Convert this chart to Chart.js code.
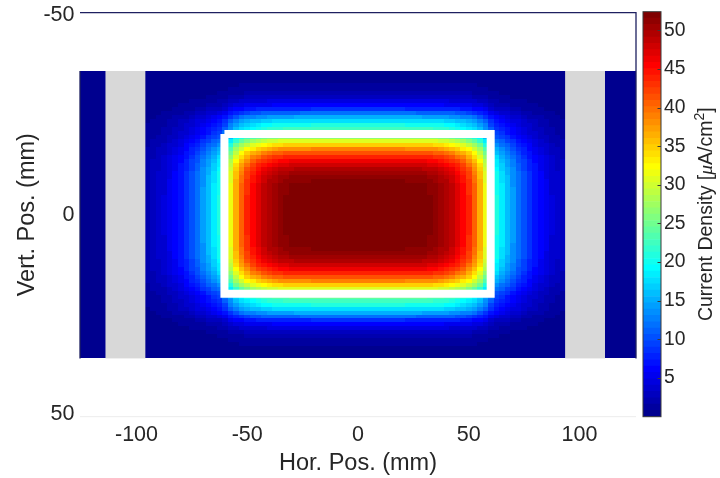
<!DOCTYPE html>
<html>
<head>
<meta charset="utf-8">
<title>Current density map</title>
<script src="https://cdn.jsdelivr.net/npm/chart.js@4.4.1/dist/chart.umd.min.js"></script>
<style>
  html, body { margin: 0; padding: 0; background: #fff; }
  #wrap { position: relative; width: 720px; height: 478px; }
  #wrap canvas { position: absolute; left: 0; top: 0; }
</style>
</head>
<body>
<div id="wrap">
  <canvas id="mapChart" width="720" height="478"></canvas>
  <canvas id="barChart" width="720" height="478"></canvas>
</div>
<script>
// ==================== DATA ====================
// Horizontal profile through the beam centre (uA/cm^2), x = -125 ... 125 mm, step 2.5 mm
const xStart = -125;
const xStep = 2.5;
const xProfile = [
    0.4, 0.4, 0.5, 0.5, 0.6, 0.7, 0.8, 0.9, 1.1, 1.3, 1.6, 1.9, 2.3, 2.8, 3.4,
    4.1, 5.0, 6.0, 7.2, 8.6, 10.2, 12.0, 14.0, 16.0, 18.2, 20.5, 25.0, 31.5, 36.8,
    40.6, 43.4, 45.6, 47.3, 48.7, 49.8, 50.6, 51.2, 51.6, 52.0, 52.1, 52.2, 52.2, 52.3,
    52.3, 52.3, 52.3, 52.3, 52.3, 52.3, 52.3, 52.3, 52.3, 52.3, 52.3, 52.3, 52.3, 52.3, 52.3,
    52.3, 52.2, 52.2, 52.1, 52.0, 51.6, 51.2, 50.6, 49.8, 48.7, 47.3, 45.6, 43.4, 40.6,
    36.8, 31.5, 25.0, 20.5, 18.2, 16.0, 14.0, 12.0, 10.2, 8.6, 7.2, 6.0, 5.0, 4.1,
    3.4, 2.8, 2.3, 1.9, 1.6, 1.3, 1.1, 0.9, 0.8, 0.7, 0.6, 0.5, 0.5, 0.4, 0.4
];

// Vertical profile through the beam centre, y = -35.5 ... 35.5 mm, step 1 mm
const yStart = -35.5;
const yStep = 1;
const yProfile = [
    0.5, 0.6, 0.8, 1.1, 1.5, 2.1, 3.0, 4.3, 6.0, 8.2, 11.5, 14.8, 18.0, 20.5, 22.5, 24.0,
    27.0, 31.0, 35.0, 38.5, 41.6, 44.2, 46.3, 48.0, 49.4, 50.4, 51.1, 51.6, 51.9, 52.1,
    52.2, 52.3, 52.3, 52.3, 52.3, 52.3,
    52.3, 52.3, 52.3, 52.3, 52.3, 52.2, 52.1, 51.9, 51.6, 51.1, 50.4, 49.4, 48.0, 46.3,
    44.2, 41.6, 38.5, 35.0, 31.0, 27.0, 24.0, 22.5, 20.5, 18.0, 14.8, 11.5, 8.2, 6.0,
    4.3, 3.0, 2.1, 1.5, 1.1, 0.8, 0.6, 0.5
];

// Columns with no measurement (mm)
const gapBands = [[-114, -96], [93.5, 111.5]];

// Aperture outline (mm)
const frameX = [-60.3, 59.9, 59.9, -60.3, -60.3];
const frameY = [-20.2, -20.2, 19.8, 19.8, -20.2];

const xTicks = [-100, -50, 0, 50, 100];
const yTicks = [-50, 0, 50];
const cbTicks = [5, 10, 15, 20, 25, 30, 35, 40, 45, 50];
const cMin = 0;
const cMax = 52.4;

// ==================== STYLE ====================
const sans = '"Liberation Sans", Arial, Helvetica, sans-serif';
const textColor = '#262626';
Chart.defaults.font.family = sans;
Chart.defaults.color = textColor;

// MATLAB style jet(64)
function jet64() {
    const m = 64, n = 16;
    const u = [];
    for (let i = 1; i <= n; i++) u.push(i / n);
    for (let i = 1; i < n; i++) u.push(1);
    for (let i = n; i >= 1; i--) u.push(i / n);
    const map = Array.from({ length: m }, () => [0, 0, 0]);
    u.forEach((val, k) => {
        const g = n / 2 + k;
        const r = g + n;
        const b = g - n;
        if (g >= 0 && g < m) map[g][1] = val;
        if (r >= 0 && r < m) map[r][0] = val;
        if (b >= 0 && b < m) map[b][2] = val;
    });
    return map.map(c => `rgb(${Math.round(c[0] * 255)},${Math.round(c[1] * 255)},${Math.round(c[2] * 255)})`);
}
const jetColors = jet64();

function colorFor(v) {
    let k = Math.floor((v - cMin) / (cMax - cMin) * jetColors.length);
    k = Math.max(0, Math.min(jetColors.length - 1, k));
    return jetColors[k];
}

// ==================== PLUGINS ====================
// Paints the density map cell by cell in data coordinates
const heatmapPlugin = {
    id: 'heatmap',
    beforeDatasetsDraw(chart) {
        const { ctx, chartArea: a, scales: { x, y } } = chart;
        const peak = Math.max(...yProfile);
        ctx.save();
        ctx.beginPath();
        ctx.rect(a.left, a.top, a.width, a.height);
        ctx.clip();
        yProfile.forEach((fy, j) => {
            const yc = yStart + j * yStep;
            const top = Math.round(y.getPixelForValue(yc - yStep / 2));
            const bottom = Math.round(y.getPixelForValue(yc + yStep / 2));
            xProfile.forEach((fx, i) => {
                const xc = xStart + i * xStep;
                const left = Math.round(x.getPixelForValue(xc - xStep / 2));
                const right = Math.round(x.getPixelForValue(xc + xStep / 2));
                ctx.fillStyle = colorFor(fx * fy / peak);
                ctx.fillRect(left, top, right - left, bottom - top);
            });
        });
        // empty columns
        const mapTop = y.getPixelForValue(yStart - yStep / 2);
        const mapBottom = y.getPixelForValue(yStart + (yProfile.length - 0.5) * yStep);
        ctx.fillStyle = '#d8d8d8';
        gapBands.forEach(([x0, x1]) => {
            const l = x.getPixelForValue(x0);
            const r = x.getPixelForValue(x1);
            ctx.fillRect(l, mapTop, r - l, mapBottom - mapTop);
        });
        ctx.restore();
    }
};

// Axes box lines
const framePlugin = {
    id: 'axesFrame',
    afterDraw(chart) {
        const { ctx, chartArea: a, scales: { y } } = chart;
        const mapTop = y.getPixelForValue(yStart - yStep / 2);
        const mapBottom = y.getPixelForValue(yStart + (yProfile.length - 0.5) * yStep);
        ctx.save();
        ctx.strokeStyle = '#1e2060';
        ctx.lineWidth = 1.3;
        ctx.beginPath();
        ctx.moveTo(a.left, a.top);
        ctx.lineTo(a.right, a.top);
        ctx.lineTo(a.right, mapBottom);
        ctx.moveTo(a.left, mapTop);
        ctx.lineTo(a.left, mapBottom);
        ctx.stroke();
        ctx.strokeStyle = '#ececec';
        ctx.lineWidth = 1;
        ctx.beginPath();
        ctx.moveTo(a.left, a.bottom);
        ctx.lineTo(a.right, a.bottom);
        ctx.stroke();
        ctx.restore();
    }
};

// Colorbar outline, inner ticks and rotated label
const colorbarPlugin = {
    id: 'colorbarDecor',
    afterDraw(chart) {
        const { ctx, chartArea: a, scales: { y } } = chart;
        ctx.save();
        ctx.strokeStyle = '#3a3a3a';
        ctx.lineWidth = 1;
        ctx.strokeRect(a.left, a.top, a.width, a.height);
        ctx.beginPath();
        cbTicks.forEach(v => {
            const py = Math.round(y.getPixelForValue(v)) + 0.5;
            ctx.moveTo(a.right, py);
            ctx.lineTo(a.right - 3.5, py);
        });
        ctx.stroke();

        const size = 19.5;
        const parts = [
            { t: 'Current Density [', f: `${size}px ${sans}`, dy: 0 },
            { t: '\u03bc', f: `italic ${size}px "Liberation Serif", serif`, dy: 0 },
            { t: 'A/cm', f: `${size}px ${sans}`, dy: 0 },
            { t: '2', f: `${Math.round(size * 0.72)}px ${sans}`, dy: -7 },
            { t: ']', f: `${size}px ${sans}`, dy: 0 }
        ];
        let total = 0;
        parts.forEach(p => { ctx.font = p.f; p.w = ctx.measureText(p.t).width; total += p.w; });
        ctx.translate(a.right + 46, (a.top + a.bottom) / 2);
        ctx.rotate(-Math.PI / 2);
        ctx.fillStyle = textColor;
        ctx.textBaseline = 'middle';
        ctx.textAlign = 'left';
        let cx = -total / 2;
        parts.forEach(p => {
            ctx.font = p.f;
            ctx.fillText(p.t, cx, p.dy);
            cx += p.w;
        });
        ctx.restore();
    }
};

// ==================== MAP ====================
new Chart(document.getElementById('mapChart'), {
    type: 'scatter',
    data: {
        datasets: [{
            data: frameX.map((x, i) => ({ x, y: frameY[i] })),
            showLine: true,
            borderColor: '#ffffff',
            borderWidth: 8,
            borderJoinStyle: 'miter',
            pointRadius: 0,
            fill: false,
            clip: false
        }]
    },
    options: {
        responsive: false,
        animation: false,
        events: [],
        layout: { padding: { left: 0, top: 12.7, right: 84, bottom: 0 } },
        plugins: { legend: { display: false }, tooltip: { enabled: false } },
        scales: {
            x: {
                type: 'linear',
                min: -125.5,
                max: 125.5,
                afterBuildTicks: s => { s.ticks = xTicks.map(v => ({ value: v })); },
                afterFit: s => { s.height = 61.3; s.paddingLeft = 0; s.paddingRight = 0; },
                grid: { display: false, drawTicks: false },
                border: { display: false },
                ticks: { color: textColor, font: { size: 21.5 }, padding: 5, maxRotation: 0 },
                title: {
                    display: true,
                    text: 'Hor. Pos. (mm)',
                    color: textColor,
                    font: { size: 23.5 },
                    padding: { top: 0, bottom: 0 }
                }
            },
            y: {
                type: 'linear',
                reverse: true,
                min: -50.6,
                max: 50.6,
                afterBuildTicks: s => { s.ticks = yTicks.map(v => ({ value: v })); },
                afterFit: s => { s.width = 80; s.paddingTop = 0; s.paddingBottom = 0; },
                grid: { display: false, drawTicks: false },
                border: { display: false },
                ticks: { color: textColor, font: { size: 21.5 }, padding: 5.5 },
                title: {
                    display: true,
                    text: 'Vert. Pos. (mm)',
                    color: textColor,
                    font: { size: 23.5 },
                    padding: { top: 13.4, bottom: 0 }
                }
            }
        }
    },
    plugins: [heatmapPlugin, framePlugin]
});

// ==================== COLORBAR ====================
new Chart(document.getElementById('barChart'), {
    type: 'bar',
    data: {
        labels: [''],
        datasets: jetColors.map(c => ({
            data: [(cMax - cMin) / jetColors.length],
            backgroundColor: c,
            borderWidth: 0,
            barPercentage: 1,
            categoryPercentage: 1
        }))
    },
    options: {
        responsive: false,
        animation: false,
        events: [],
        layout: { padding: { left: 643, top: 11.7, right: 0, bottom: 61.3 } },
        plugins: { legend: { display: false }, tooltip: { enabled: false } },
        scales: {
            x: { stacked: true, display: false },
            y: {
                stacked: true,
                position: 'right',
                min: cMin,
                max: cMax,
                afterBuildTicks: s => { s.ticks = cbTicks.map(v => ({ value: v })); },
                afterFit: s => { s.width = 59; s.paddingTop = 0; s.paddingBottom = 0; },
                grid: { display: false, drawTicks: false },
                border: { display: false },
                ticks: { color: textColor, font: { size: 19.3 }, padding: 3 }
            }
        }
    },
    plugins: [colorbarPlugin]
});
</script>
</body>
</html>
